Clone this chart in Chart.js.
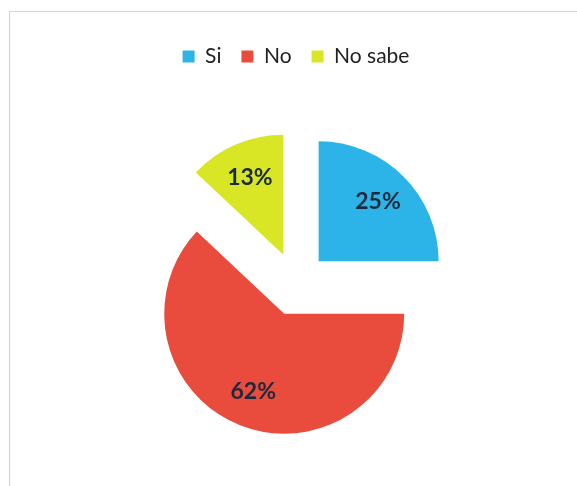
<!DOCTYPE html>
<html>
<head>
<meta charset="utf-8">
<script src="https://cdn.jsdelivr.net/npm/chart.js@4.4.0/dist/chart.umd.min.js"></script>
<style>
  html, body { margin: 0; padding: 0; background: #fff; }
  #wrap { position: relative; width: 577px; height: 486px; }
  #frame { position: absolute; left: 9px; top: 11px; right: -5px; bottom: -5px;
           border-top: 1px solid #cfd3d3; border-left: 1px solid #cfd3d3; }
  canvas { position: absolute; left: 0; top: 0; }
</style>
</head>
<body>
<div id="wrap">
  <div id="frame"></div>
  <canvas id="pie-chart" width="577" height="486"></canvas>
</div>
<script>
const chartCanvas = document.getElementById("pie-chart");

const labels = ["Si", "No", "No sabe"];
const values = [25, 62, 13];
const sliceColors = ["#2cb4e9", "#e94b3c", "#d8e626"];

const explodeDistance = 32;

// push every slice out from the centre along its bisector
const explodePlugin = {
    id: "explode",
    afterDatasetUpdate(chart, args) {
        args.meta.data.forEach(arc => {
            const mid = (arc.startAngle + arc.endAngle) / 2;
            arc.x += Math.cos(mid) * explodeDistance;
            arc.y += Math.sin(mid) * explodeDistance;
        });
    }
};

// a bit more room under the legend
const legendGap = {
    id: "legendGap",
    beforeInit(chart) {
        const fit = chart.legend.fit;
        chart.legend.fit = function () {
            fit.bind(chart.legend)();
            this.height += 5;
        };
    }
};

const percentPlugin = {
    id: "percent",
    afterDatasetsDraw(chart) {
        const meta = chart.getDatasetMeta(0);
        const ctx = chart.ctx;
        const total = values.reduce((a, b) => a + b, 0);
        ctx.save();
        ctx.font = "bold 23px Lato";
        ctx.fillStyle = "#1c2a3c";
        ctx.textAlign = "center";
        ctx.textBaseline = "middle";
        meta.data.forEach((arc, i) => {
            const mid = (arc.startAngle + arc.endAngle) / 2;
            const r = arc.outerRadius * 0.7;
            const x = arc.x + Math.cos(mid) * r;
            const y = arc.y + Math.sin(mid) * r;
            ctx.fillText(Math.round(values[i] / total * 100) + "%", x, y);
        });
        ctx.restore();
    }
};

new Chart(chartCanvas, {
    type: "pie",
    data: {
        labels: labels,
        datasets: [{
            data: values,
            backgroundColor: sliceColors,
            borderWidth: 0
        }]
    },
    options: {
        responsive: false,
        animation: false,
        radius: 120,
        layout: { padding: { left: 15, top: 26, bottom: 0 } },
        plugins: {
            tooltip: { enabled: false },
            legend: {
                position: "top",
                labels: {
                    boxWidth: 12,
                    boxHeight: 12,
                    padding: 20,
                    color: "#222",
                    font: { family: "Lato", size: 21 }
                }
            }
        }
    },
    plugins: [explodePlugin, legendGap, percentPlugin]
});
</script>
</body>
</html>
